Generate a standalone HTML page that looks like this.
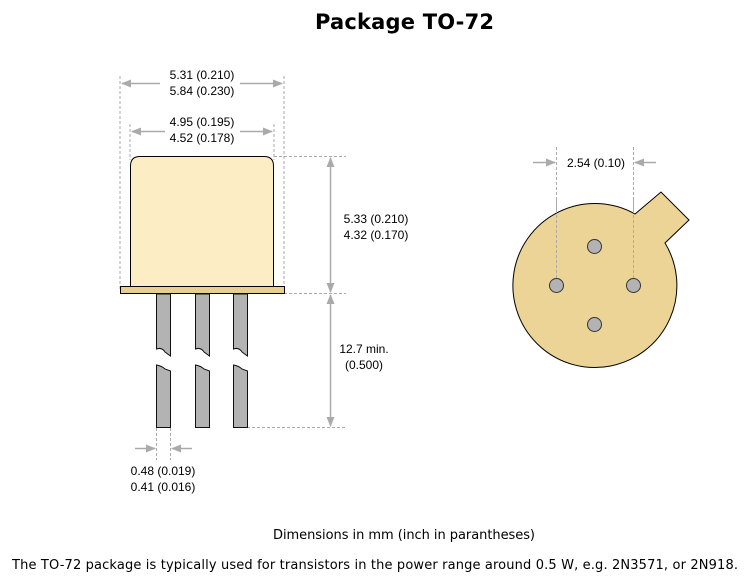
<!DOCTYPE html>
<html><head><style>
body{margin:0;background:#fff;width:750px;height:576px;overflow:hidden}
svg text{font-family:"Liberation Sans",sans-serif;fill:#000}
</style></head><body>
<svg width="750" height="576" viewBox="0 0 750 576" xmlns="http://www.w3.org/2000/svg">
<defs>
<marker id="a" markerWidth="10" markerHeight="8" refX="9" refY="4" orient="auto" markerUnits="userSpaceOnUse"><path d="M0,0 L10,4 L0,8z" fill="#aaa"/></marker>
</defs>
<text x="315" y="29" font-size="21" font-weight="bold" textLength="179" fill="#222" style="font-family:'DejaVu Sans',sans-serif">Package TO-72</text>
<g stroke="#aaa" stroke-width="1" stroke-dasharray="3,2" fill="none">
<line x1="120" y1="76" x2="120" y2="290"/><line x1="284" y1="76" x2="284" y2="290"/>
<line x1="130" y1="124" x2="130" y2="160"/><line x1="274" y1="124" x2="274" y2="160"/>
<line x1="274" y1="156.5" x2="346" y2="156.5"/><line x1="284" y1="293.5" x2="346" y2="293.5"/>
<line x1="247" y1="427.5" x2="346" y2="427.5"/>
<line x1="156.5" y1="428" x2="156.5" y2="460"/><line x1="170.5" y1="428" x2="170.5" y2="460"/>
<line x1="556.5" y1="147" x2="556.5" y2="280"/><line x1="633.5" y1="147" x2="633.5" y2="280"/>
</g>
<g stroke="#aaa" stroke-width="1.5" fill="none">
<line x1="160" y1="83.5" x2="122" y2="83.5" marker-end="url(#a)"/><line x1="240" y1="83.5" x2="282" y2="83.5" marker-end="url(#a)"/>
<line x1="165" y1="131.5" x2="132" y2="131.5" marker-end="url(#a)"/><line x1="240" y1="131.5" x2="272" y2="131.5" marker-end="url(#a)"/>
<line x1="330.5" y1="220" x2="330.5" y2="158" marker-end="url(#a)"/><line x1="330.5" y1="220" x2="330.5" y2="292" marker-end="url(#a)"/>
<line x1="330.5" y1="360" x2="330.5" y2="295" marker-end="url(#a)"/><line x1="330.5" y1="360" x2="330.5" y2="426" marker-end="url(#a)"/>
<line x1="135" y1="448.5" x2="155" y2="448.5" marker-end="url(#a)"/><line x1="192" y1="448.5" x2="172" y2="448.5" marker-end="url(#a)"/>
<line x1="533" y1="162.5" x2="555" y2="162.5" marker-end="url(#a)"/><line x1="656" y1="162.5" x2="635" y2="162.5" marker-end="url(#a)"/>
</g>
<path d="M130.5,293 V166 Q130.5,156.5 140,156.5 H264 Q273.5,156.5 273.5,166 V293" fill="#fdedc4" stroke="#000" stroke-width="1"/>
<rect x="120.5" y="286.5" width="164" height="7" fill="#e9cf8f" stroke="#000"/>
<g fill="#b3b3b3" stroke="#111" stroke-width="1">
<path d="M156.5,294 V349 Q162,347 165,352 L170.5,356 V294z"/>
<path d="M156.5,365 Q162,366 165,369 L170.5,371 V427.5 H156.5z"/>
<path d="M195.5,294 V349 Q201,347 204,352 L209.5,356 V294z"/>
<path d="M195.5,365 Q201,366 204,369 L209.5,371 V427.5 H195.5z"/>
<path d="M233.5,294 V349 Q239,347 242,352 L247.5,356 V294z"/>
<path d="M233.5,365 Q239,366 242,369 L247.5,371 V427.5 H233.5z"/>
</g>
<g font-size="12" text-anchor="middle">
<text x="202" y="79">5.31 (0.210)</text><text x="202" y="95">5.84 (0.230)</text>
<text x="202" y="126">4.95 (0.195)</text><text x="202" y="142">4.52 (0.178)</text>
<text x="376" y="223">5.33 (0.210)</text><text x="376" y="239">4.32 (0.170)</text>
<text x="364" y="353">12.7 min.</text><text x="364" y="369">(0.500)</text>
<text x="163" y="475">0.48 (0.019)</text><text x="163" y="491">0.41 (0.016)</text>
<text x="596" y="167">2.54 (0.10)</text>
</g>
<text x="273" y="539" font-size="13" textLength="262" style="font-family:'DejaVu Sans',sans-serif">Dimensions in mm (inch in parantheses)</text>
<text x="12" y="569" font-size="13" textLength="726" style="font-family:'DejaVu Sans',sans-serif">The TO-72 package is typically used for transistors in the power range around 0.5 W, e.g. 2N3571, or 2N918.</text>
<path d="M635,214 L661,192 L689,220 L665,243 A82,82 0 1 1 635,214z" fill="#ecd396" stroke="#000" stroke-width="1"/>
<g stroke="#aaa" stroke-dasharray="3,2"><line x1="556.5" y1="200" x2="556.5" y2="280"/><line x1="633.5" y1="200" x2="633.5" y2="280"/></g>
<g fill="#b3b3b3" stroke="#333"><circle cx="594.5" cy="246.5" r="7"/><circle cx="556.5" cy="285.5" r="7"/><circle cx="633.5" cy="285.5" r="7"/><circle cx="594.5" cy="324.5" r="7"/></g>
</svg>
</body></html>
